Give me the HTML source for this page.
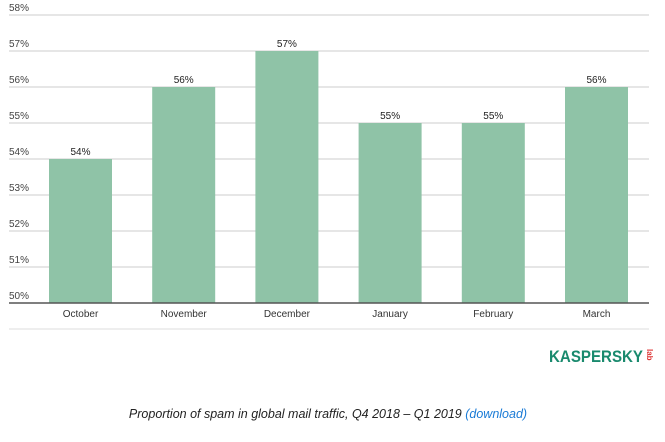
<!DOCTYPE html>
<html><head><meta charset="utf-8"><style>
body{margin:0;background:#fff;width:665px;height:437px;overflow:hidden;font-family:"Liberation Sans",sans-serif}
</style></head><body>
<svg id="chart" width="665" height="437" xmlns="http://www.w3.org/2000/svg">
<g id="grid"></g><g id="bars"></g>
<line x1="9" x2="649" y1="303" y2="303" stroke="#555" stroke-width="1.5"/>
<line x1="9" x2="649" y1="329" y2="329" stroke="#ddd" stroke-width="1"/>
<g>
<text x="549" y="362" font-size="17" font-weight="bold" fill="#1a8a6e" textLength="94" lengthAdjust="spacingAndGlyphs">KASPERSKY</text>
<text x="0" y="0" font-size="8" font-weight="bold" fill="#d33" transform="translate(647,349) rotate(90)">lab</text>
</g>
<text x="328" y="418" text-anchor="middle" font-size="12.5" font-style="italic" fill="#222">Proportion of spam in global mail traffic, Q4 2018 – Q1 2019 <tspan fill="#1a7bd6">(download)</tspan></text>
</svg>
<script>
const categories=["October","November","December","January","February","March"];
const values=[54,56,57,55,55,56];
const ticks=[50,51,52,53,54,55,56,57,58];
const svg="http://www.w3.org/2000/svg";
function y(v){return 303-(v-50)*36;}
function x(i){return 49+i*103.2;}
const grid=document.getElementById("grid"),bars=document.getElementById("bars");
ticks.forEach(t=>{
 if(t>50){const l=document.createElementNS(svg,"line");
 
 
 l.setAttribute("x1",9);l.setAttribute("x2",649);l.setAttribute("y1",y(t));l.setAttribute("y2",y(t));
 l.setAttribute("stroke","#ddd");l.setAttribute("stroke-width","1.5");grid.appendChild(l);}
 const tx=document.createElementNS(svg,"text");
 
 
 tx.setAttribute("x",9);tx.setAttribute("y",y(t)-4);tx.setAttribute("font-size","10");tx.setAttribute("fill","#444");
 tx.textContent=t+"%";grid.appendChild(tx);
});
categories.forEach((c,i)=>{
 const r=document.createElementNS(svg,"rect");
 
 
 r.setAttribute("x",x(i));r.setAttribute("width",63);r.setAttribute("y",y(values[i]));r.setAttribute("height",303-y(values[i]));
 r.setAttribute("fill","#8fc3a7");bars.appendChild(r);
 const v=document.createElementNS(svg,"text");
 
 
 v.setAttribute("x",x(i)+31.5);v.setAttribute("y",y(values[i])-4);v.setAttribute("text-anchor","middle");v.setAttribute("font-size","10");v.setAttribute("fill","#222");
 v.textContent=values[i]+"%";bars.appendChild(v);
 const cl=document.createElementNS(svg,"text");
 
 
 cl.setAttribute("x",x(i)+31.5);cl.setAttribute("y",317);cl.setAttribute("text-anchor","middle");cl.setAttribute("font-size","10");cl.setAttribute("fill","#333");
 cl.textContent=c;bars.appendChild(cl);
});
</script>
</body></html>
